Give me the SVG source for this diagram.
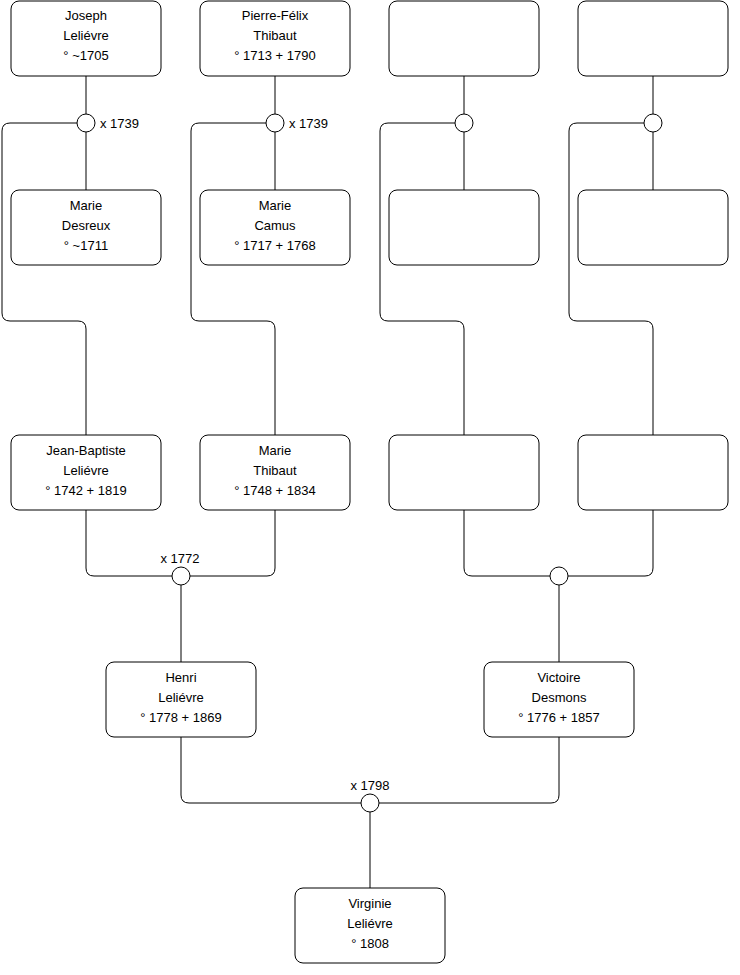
<svg xmlns="http://www.w3.org/2000/svg" width="740" height="975" viewBox="0 0 740 975">
<style>
.n{fill:#fff;stroke:#000;stroke-width:1}
.t{font-family:"Liberation Sans",Arial,sans-serif;font-size:13px;fill:#000;text-anchor:middle}
.l{font-family:"Liberation Sans",Arial,sans-serif;font-size:13px;fill:#000}
.c{fill:none;stroke:#000;stroke-width:1}
.u{fill:#fff;stroke:#000;stroke-width:1}
</style>
<rect width="740" height="975" fill="#fff"/>
<g id="connectors">
<path class="c" d="M86 76V114M86 132V190M77 123H10Q2 123 2 131V313Q2 321 10 321H78Q86 321 86 329V435"/>
<path class="c" d="M275 76V114M275 132V190M266 123H199Q191 123 191 131V313Q191 321 199 321H267Q275 321 275 329V435"/>
<path class="c" d="M464 76V114M464 132V190M455 123H388Q380 123 380 131V313Q380 321 388 321H456Q464 321 464 329V435"/>
<path class="c" d="M653 76V114M653 132V190M644 123H577Q569 123 569 131V313Q569 321 577 321H645Q653 321 653 329V435"/>
<path class="c" d="M86 510V568Q86 576 94 576H172M275 510V568Q275 576 267 576H190M181 585V662"/>
<path class="c" d="M464 510V568Q464 576 472 576H550M653 510V568Q653 576 645 576H568M559 585V662"/>
<path class="c" d="M181 737V795Q181 803 189 803H361M559 737V795Q559 803 551 803H379M370 812V888"/>
<circle class="u" cx="86" cy="123" r="9"/>
<circle class="u" cx="275" cy="123" r="9"/>
<circle class="u" cx="464" cy="123" r="9"/>
<circle class="u" cx="653" cy="123" r="9"/>
<circle class="u" cx="181" cy="576" r="9"/>
<circle class="u" cx="559" cy="576" r="9"/>
<circle class="u" cx="370" cy="803" r="9"/>
<text class="l" x="100" y="128">x 1739</text>
<text class="l" x="289" y="128">x 1739</text>
<text class="t" x="180" y="563">x 1772</text>
<text class="t" x="370" y="790">x 1798</text>
</g>
<g id="joseph"><rect class="n" x="11" y="1" width="150" height="75" rx="8"/><text class="t" x="86" y="20">Joseph</text><text class="t" x="86" y="40">Leliévre</text><text class="t" x="86" y="60">° ~1705</text></g>
<g id="pierre-felix"><rect class="n" x="200" y="1" width="150" height="75" rx="8"/><text class="t" x="275" y="20">Pierre-Félix</text><text class="t" x="275" y="40">Thibaut</text><text class="t" x="275" y="60">° 1713 + 1790</text></g>
<g id="unknown1"><rect class="n" x="389" y="1" width="150" height="75" rx="8"/></g>
<g id="unknown2"><rect class="n" x="578" y="1" width="150" height="75" rx="8"/></g>
<g id="marie-desreux"><rect class="n" x="11" y="190" width="150" height="75" rx="8"/><text class="t" x="86" y="210">Marie</text><text class="t" x="86" y="230">Desreux</text><text class="t" x="86" y="250">° ~1711</text></g>
<g id="marie-camus"><rect class="n" x="200" y="190" width="150" height="75" rx="8"/><text class="t" x="275" y="210">Marie</text><text class="t" x="275" y="230">Camus</text><text class="t" x="275" y="250">° 1717 + 1768</text></g>
<g id="unknown3"><rect class="n" x="389" y="190" width="150" height="75" rx="8"/></g>
<g id="unknown4"><rect class="n" x="578" y="190" width="150" height="75" rx="8"/></g>
<g id="jean-baptiste"><rect class="n" x="11" y="435" width="150" height="75" rx="8"/><text class="t" x="86" y="455">Jean-Baptiste</text><text class="t" x="86" y="475">Leliévre</text><text class="t" x="86" y="495">° 1742 + 1819</text></g>
<g id="marie-thibaut"><rect class="n" x="200" y="435" width="150" height="75" rx="8"/><text class="t" x="275" y="455">Marie</text><text class="t" x="275" y="475">Thibaut</text><text class="t" x="275" y="495">° 1748 + 1834</text></g>
<g id="unknown5"><rect class="n" x="389" y="435" width="150" height="75" rx="8"/></g>
<g id="unknown6"><rect class="n" x="578" y="435" width="150" height="75" rx="8"/></g>
<g id="henri"><rect class="n" x="106" y="662" width="150" height="75" rx="8"/><text class="t" x="181" y="682">Henri</text><text class="t" x="181" y="702">Leliévre</text><text class="t" x="181" y="722">° 1778 + 1869</text></g>
<g id="victoire"><rect class="n" x="484" y="662" width="150" height="75" rx="8"/><text class="t" x="559" y="682">Victoire</text><text class="t" x="559" y="702">Desmons</text><text class="t" x="559" y="722">° 1776 + 1857</text></g>
<g id="virginie"><rect class="n" x="295" y="888" width="150" height="75" rx="8"/><text class="t" x="370" y="908">Virginie</text><text class="t" x="370" y="928">Leliévre</text><text class="t" x="370" y="948">° 1808</text></g>
</svg>
